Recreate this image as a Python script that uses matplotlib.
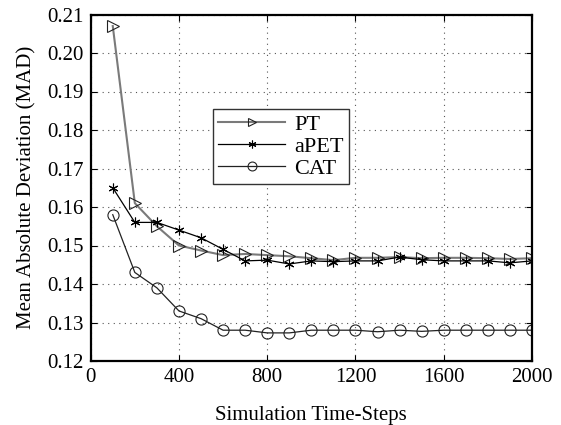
import matplotlib
matplotlib.use("Agg")
import matplotlib.pyplot as plt

steps = [100, 200, 300, 400, 500, 600, 700, 800, 900, 1000,
         1100, 1200, 1300, 1400, 1500, 1600, 1700, 1800, 1900, 2000]
pt = [0.207, 0.161, 0.155, 0.150, 0.1487, 0.1475, 0.1478, 0.1475, 0.1472, 0.1467,
      0.1462, 0.1468, 0.1468, 0.1470, 0.1467, 0.1468, 0.1468, 0.1467, 0.1465, 0.1467]
apet = [0.165, 0.156, 0.156, 0.154, 0.152, 0.149, 0.146, 0.1462, 0.1452, 0.1460,
        0.1458, 0.1460, 0.1460, 0.1470, 0.1463, 0.1460, 0.1460, 0.1460, 0.1455, 0.1460]
cat = [0.158, 0.143, 0.139, 0.133, 0.131, 0.128, 0.128, 0.1273, 0.1273, 0.128,
       0.128, 0.128, 0.1276, 0.128, 0.1277, 0.128, 0.128, 0.128, 0.128, 0.128]
xticks = [0, 400, 800, 1200, 1600, 2000]
yticks = [0.12, 0.13, 0.14, 0.15, 0.16, 0.17, 0.18, 0.19, 0.20, 0.21]

plt.rcParams['font.family'] = ['Liberation Serif', 'DejaVu Serif']
fig = plt.figure(figsize=(5.61, 4.25), dpi=100)
ax = fig.add_axes([90.7/561, (425-361)/425, 441.3/561, 346.5/425])

ax.plot(steps, pt, color='#7a7a7a', lw=1.5, marker='>', ms=8, mfc='none', mec='#222222', mew=0.8, label='PT')
ax.plot(steps, apet, color='black', lw=0.9, marker=(6, 2, 0), ms=7, mfc='none', mec='black', mew=0.8, label='aPET')
ax.plot(steps, cat, color='#222222', lw=0.9, marker='o', ms=8, mfc='none', mec='#222222', mew=0.8, label='CAT')

ax.set_xlim(0, 2000)
ax.set_ylim(0.12, 0.21)
ax.set_xticks(xticks)
ax.set_yticks(yticks)
ax.set_yticklabels([f"{v:.2f}" for v in yticks])
ax.grid(True, linestyle=(0, (1, 4)), color='#555555', lw=0.8)
ax.tick_params(direction='in', labelsize=15, length=4, top=True, right=True, pad=5)
for s in ax.spines.values():
    s.set_linewidth(1.6)
ax.set_xlabel('Simulation Time-Steps', fontsize=15, labelpad=14)
ax.set_ylabel('Mean Absolute Deviation (MAD)', fontsize=15, labelpad=8)

leg = ax.legend(loc='upper left', bbox_to_anchor=(0.277, 0.727), fontsize=16,
                fancybox=False, edgecolor='#333333', framealpha=1, markerscale=0.8,
                handlelength=3.0, borderpad=0.25, labelspacing=0.05, handletextpad=0.4,
                borderaxespad=0)
leg.get_frame().set_linewidth(1.0)

fig.savefig('out.png', dpi=100)
